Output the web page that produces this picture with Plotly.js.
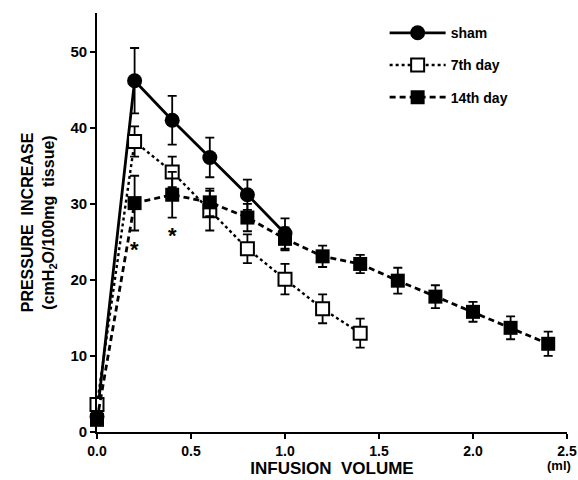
<!DOCTYPE html>
<html>
<head>
<meta charset="utf-8">
<script src="https://cdn.plot.ly/plotly-3.0.1.min.js"></script>
<style>html,body{margin:0;padding:0;background:#fff;}#chart{width:578px;height:480px;}</style>
</head>
<body>
<div id="chart"></div>
<script>
// Data
const shamX = [0, 0.2, 0.4, 0.6, 0.8, 1.0];
const shamY = [2, 46.2, 41, 36.1, 31.2, 26.1];
const shamErr = [0, 4.3, 3.2, 2.6, 2, 2];

const day7X = [0, 0.2, 0.4, 0.6, 0.8, 1.0, 1.2, 1.4];
const day7Y = [3.6, 38.2, 34.2, 29.1, 24.1, 20.1, 16.2, 13];
const day7Err = [0, 2, 2, 2.6, 1.9, 2, 1.9, 1.9];

const day14X = [0, 0.2, 0.4, 0.6, 0.8, 1.0, 1.2, 1.4, 1.6, 1.8, 2.0, 2.2, 2.4];
const day14Y = [1.6, 30.1, 31.2, 30.2, 28.2, 25.4, 23.1, 22.1, 19.9, 17.8, 15.8, 13.7, 11.6];
const day14Err = [0, 3.6, 3, 1.8, 1.8, 1.5, 1.4, 1.2, 1.7, 1.5, 1.3, 1.5, 1.6];

const starX = [0.2, 0.4];
const starY = [24.8, 26.6];

const xTicks = [0, 0.5, 1.0, 1.5, 2.0, 2.5];
const xTickText = ['0.0', '0.5', '1.0', '1.5', '2.0', '2.5'];
const yTicks = [0, 10, 20, 30, 40, 50];

const FONT = 'Liberation Sans, Arial, Helvetica, sans-serif';

function errBar(arr, w) {
  return {type: 'data', array: arr, visible: true, color: '#000', thickness: 1.8, width: w};
}

const traces = [
  {
    x: shamX, y: shamY, name: 'sham', mode: 'lines+markers', legendgroup: 'a',
    line: {color: '#000', width: 2.8, dash: 'solid'},
    marker: {symbol: 'circle', size: 15, color: '#000'},
    error_y: errBar(shamErr, 4.5), cliponaxis: false
  },
  {
    x: day7X, y: day7Y, name: '7th day', mode: 'lines+markers', legendgroup: 'b',
    line: {color: '#000', width: 2.4, dash: 'dot'},
    marker: {symbol: 'square', size: 13, color: '#fff', line: {color: '#000', width: 2}},
    error_y: errBar(day7Err, 4.5), cliponaxis: false
  },
  {
    x: day14X, y: day14Y, name: '14th day', mode: 'lines+markers', legendgroup: 'c',
    line: {color: '#000', width: 2.8, dash: '6px,4px'},
    marker: {symbol: 'square', size: 14, color: '#000'},
    error_y: errBar(day14Err, 4.5), cliponaxis: false
  }
];

const annotations = starX.map((x, i) => ({
  x: x, y: starY[i], xref: 'x', yref: 'y', text: '<b>*</b>', showarrow: false,
  font: {family: FONT, size: 22, color: '#000'}, yshift: -6
}));
annotations.push({
  x: 1, y: 0, xref: 'paper', yref: 'paper', xanchor: 'right', yanchor: 'top',
  text: '<b>(ml)</b>', showarrow: false, yshift: -24, xshift: 6,
  font: {family: FONT, size: 13, color: '#000'}
});

const layout = {
  width: 578, height: 480,
  margin: {l: 97, r: 11, t: 13, b: 48},
  paper_bgcolor: '#fff', plot_bgcolor: '#fff',
  showlegend: true,
  legend: {
    x: 0.612, y: 0.99, xanchor: 'left', yanchor: 'top',
    bgcolor: 'rgba(0,0,0,0)', itemwidth: 56, tracegroupgap: 11,
    font: {family: FONT, size: 14, color: '#000', weight: 'bold'}
  },
  xaxis: {
    range: [0, 2.5], tickvals: xTicks, ticktext: xTickText,
    showgrid: false, zeroline: false, showline: true, linecolor: '#000', linewidth: 1.8,
    ticks: 'outside', ticklen: 5, tickwidth: 1.8, tickcolor: '#000',
    tickfont: {family: FONT, size: 14, color: '#000', weight: 'bold'},
    title: {text: '<b>INFUSION  VOLUME</b>', font: {family: FONT, size: 17, color: '#000'}, standoff: 4}
  },
  yaxis: {
    range: [0, 55.1], tickvals: yTicks,
    showgrid: false, zeroline: false, showline: true, linecolor: '#000', linewidth: 1.8,
    ticks: 'outside', ticklen: 5, tickwidth: 1.8, tickcolor: '#000',
    tickfont: {family: FONT, size: 15, color: '#000', weight: 'bold'},
    title: {text: '<b>PRESSURE  INCREASE<br>(cmH<sub>2</sub>O/100mg  tissue)</b>', font: {family: FONT, size: 16, color: '#000'}, standoff: 12}
  },
  annotations: annotations
};

Plotly.newPlot('chart', traces, layout, {displayModeBar: false, staticPlot: true});
</script>
</body>
</html>
